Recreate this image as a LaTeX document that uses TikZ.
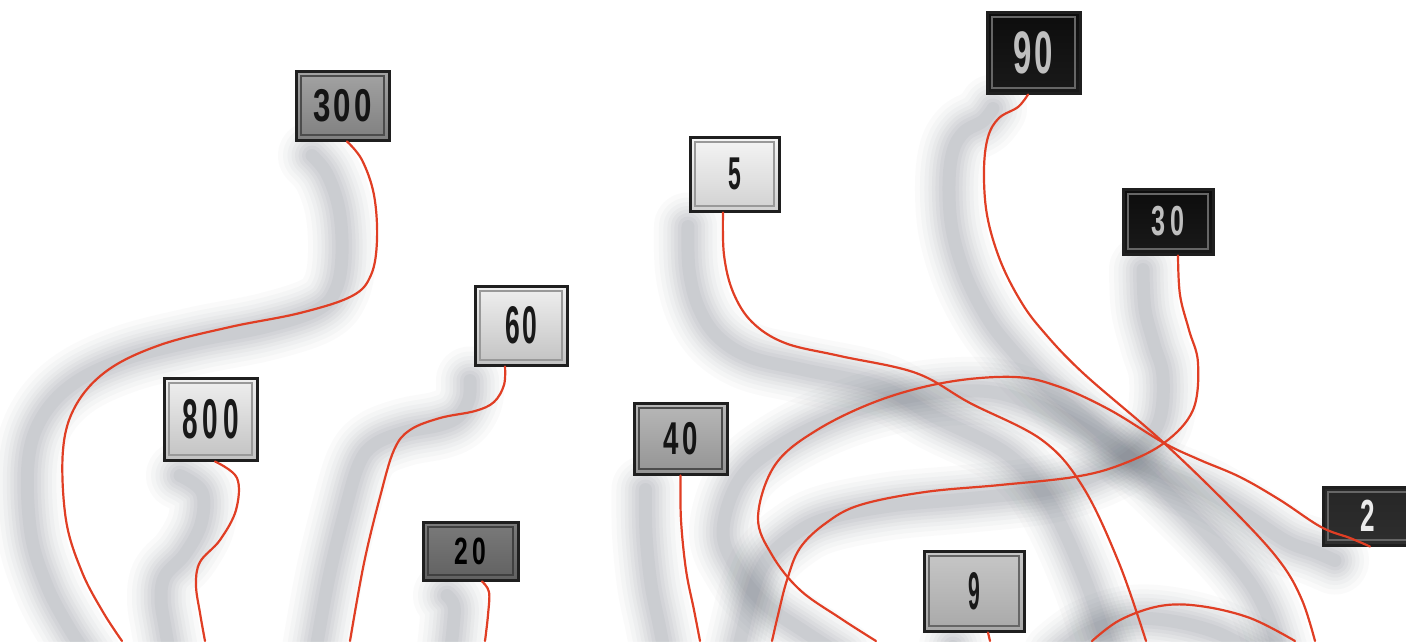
\documentclass[tikz,border=0pt]{standalone}
\usepackage{fontspec}
\newfontfamily\tagfont{Liberation Sans}
\pgfdeclarelayer{back}
\pgfdeclarelayer{shade}
\pgfsetlayers{back,shade,main}
\definecolor{wirered}{RGB}{224,62,36}
\definecolor{shadowc}{RGB}{104,112,122}
\newcommand\dig[3]{\scalebox{#2}[1]{\fontsize{#1}{#1}\selectfont #3}}
\tikzset{
  wire/.style={draw=wirered, line width=2.2pt, line cap=round, line join=round},
  shadowline/.style={draw=shadowc, line cap=round, line join=round},
  tag/.style={draw=black!88, line width=3pt, inner sep=0pt, font=\tagfont\bfseries,
    path picture={\draw[line width=1.2pt, draw=#1]
      ([xshift=5pt,yshift=-5pt]path picture bounding box.north west) rectangle
      ([xshift=-5pt,yshift=5pt]path picture bounding box.south east);}},
  lighttag/.style={tag=black!40, top color=black!6, bottom color=black!24, text=black!90},
  midtag/.style={tag=black!70, top color=black!36, bottom color=black!50, text=black!92},
  darkmid/.style={tag=black!75, top color=black!52, bottom color=black!62, text=black},
  blacktag/.style={tag=black!60, top color=black!95, bottom color=black!90, text=black!25},
}
\newcommand\Wire[1]{%
  \begin{pgfonlayer}{shade}
    \foreach \w/\o in {68/0.03,58/0.035,49/0.04,41/0.045,34/0.05,27/0.055,20/0.06,13/0.065}{%
      \draw[shadowline, line width=\w pt, opacity=\o, transform canvas={shift={(-35,14)}}]
        plot[smooth, tension=0.6] coordinates {#1};}
  \end{pgfonlayer}
  \draw[wire] plot[smooth, tension=0.6] coordinates {#1};
}
\begin{document}
\begin{tikzpicture}[x=1pt,y=-1pt]
\begin{pgfonlayer}{back}
  \fill[white] (0,0) rectangle (1406,641);
\end{pgfonlayer}
\useasboundingbox (0,0) rectangle (1406,641);

% tags
\node[midtag, minimum width=93pt, minimum height=69pt] (n300) at (342.5,105.5) {\dig{46}{0.68}{3\kern5pt0\kern5pt0}};
\node[lighttag, minimum width=93pt, minimum height=82pt] (n800) at (210.5,419) {\dig{56}{0.5}{8\kern10pt0\kern10pt0}};
\node[lighttag, minimum width=92pt, minimum height=79pt] (n60) at (521,325.5) {\dig{53}{0.5}{6\kern5pt0}};
\node[darkmid, minimum width=95pt, minimum height=58pt] (n20) at (470.5,551) {\dig{38}{0.65}{2\kern6pt0}};
\node[midtag, top color=black!28, bottom color=black!42, minimum width=93pt, minimum height=71pt] (n40) at (680.5,438.5) {\dig{46}{0.6}{4\kern6pt0}};
\node[lighttag, top color=black!4, bottom color=black!18, minimum width=89pt, minimum height=74pt] (n5) at (734.5,174) {\dig{46}{0.5}{5}};
\node[blacktag, minimum width=93pt, minimum height=81pt] (n90) at (1033.5,52.5) {\dig{60}{0.55}{9\kern5pt0}};
\node[blacktag, minimum width=90pt, minimum height=65pt] (n30) at (1168,221.5) {\dig{42}{0.6}{3\kern8pt0}};
\node[blacktag, top color=black!85, bottom color=black!82, text=black!8, minimum width=90pt, minimum height=58pt] (n2) at (1368,516) {\dig{45}{0.58}{2}};
\node[lighttag, top color=black!22, bottom color=black!34, tag=black!60, minimum width=100pt, minimum height=80pt] (n9) at (974,591) {\dig{53}{0.4}{9}};

% wire ends
\coordinate (s300) at ([xshift=4.5pt]n300.south);
\coordinate (s800) at ([xshift=4.5pt]n800.south);
\coordinate (s60) at ([xshift=-16pt]n60.south);
\coordinate (s20) at ([xshift=11.5pt]n20.south);
\coordinate (s40) at (n40.south);
\coordinate (s5) at ([xshift=-11.5pt]n5.south);
\coordinate (s90) at ([xshift=-5.5pt]n90.south);
\coordinate (s30) at ([xshift=10pt]n30.south);
\coordinate (s2) at ([xshift=2pt]n2.south);
\coordinate (s9) at ([xshift=14pt]n9.south);
\coordinate (e300) at (122,641);
\coordinate (e800) at (205,641);
\coordinate (e60) at (350,641);
\coordinate (e20) at (485,641);
\coordinate (e40) at (700,641);
\coordinate (e5) at (1146,641);
\coordinate (e90) at (1315,641);
\coordinate (e30) at (772,641);
\coordinate (e2) at (876,641);
\coordinate (e9) at (990,641);
\coordinate (la) at (1092,641);
\coordinate (lb) at (1295,641);

% wires
\Wire{(s300) (362,160) (374,195) (377,240) (371,275) (352,296) (300,313) (230,327) (160,345) (108,370) (76,405) (63,450) (66,520) (82,572) (103,612) (e300)}
\Wire{(s800) (237,478) (236,510) (220,540) (200,562) (196,585) (200,613) (e800)}
\Wire{(s60) (504,385) (494,402) (475,411) (440,418) (410,430) (394,450) (380,497) (364,563) (e60)}
\Wire{(s20) (489,592) (488,615) (e20)}
\Wire{(s40) (681,520) (686,570) (694,610) (e40)}
\Wire{(s5) (724,255) (733,292) (752,322) (785,343) (840,356) (916,373) (970,403) (1042,440) (1083,487) (1119,563) (e5)}
\Wire{(s90) (1018,107) (999,118) (988,137) (984,170) (987,215) (1000,260) (1020,300) (1042,330) (1083,373) (1164,443) (1240,517) (1281,563) (1302,600) (e90)}
\Wire{(s30) (1180,295) (1189,330) (1198,363) (1193,410) (1164,443) (1120,465) (1074,477) (1000,485) (925,492) (860,505) (826,523) (800,548) (787,580) (778,615) (e30)}
\Wire{(s2) (1350,538) (1321,527) (1280,500) (1240,477) (1200,460) (1164,443) (1110,410) (1060,387) (1015,377) (948,382) (880,400) (817,430) (775,465) (758,517) (772,555) (800,590) (840,618) (e2)}
\Wire{(s9) (e9)}
\Wire{(la) (1120,620) (1160,606) (1200,606) (1250,618) (lb)}
\end{tikzpicture}
\end{document}
